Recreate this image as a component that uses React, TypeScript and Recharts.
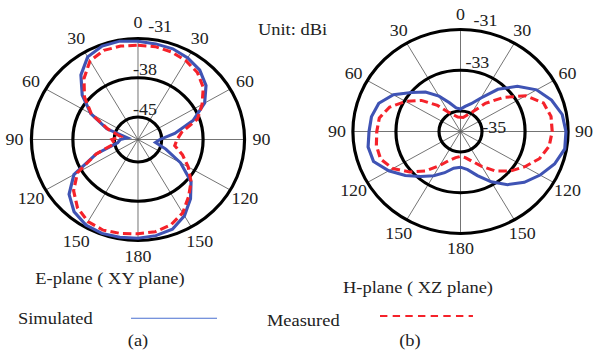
import {
  PolarAngleAxis,
  PolarGrid,
  PolarRadiusAxis,
  Radar,
  RadarChart,
} from "recharts";

// angle in degrees, clockwise from the top
const angles = [
  0, 10, 20, 30, 40, 50, 60, 70, 80, 90, 100, 110, 120, 130, 140, 150, 160, 170,
  180, 190, 200, 210, 220, 230, 240, 250, 260, 270, 280, 290, 300, 310, 320, 330,
  340, 350,
];

// E-plane (XY plane), dBi
const eSimulated = [
  -31.5, -31.7, -31.8, -32.2, -32.8, -34.0, -36.0, -39.1, -42.7, -45.3, -46.0,
  -44.0, -40.7, -37.3, -35.2, -33.3, -32.0, -31.6, -31.4, -31.3, -31.2, -31.4,
  -32.2, -33.8, -36.5, -41.5, -45.5, -46.0, -47.2, -43.4, -39.8, -36.7, -34.0,
  -32.0, -31.3, -31.2,
];
const eMeasured = [
  -32.2, -32.2, -32.4, -32.8, -33.4, -34.6, -36.5, -38.3, -41.5, -42.4, -42.7,
  -41.0, -39.2, -37.3, -35.7, -33.9, -32.8, -32.3, -32.2, -32.0, -31.8, -32.1,
  -33.1, -34.8, -37.2, -41.5, -45.0, -44.6, -46.0, -43.6, -39.9, -37.2, -34.8,
  -32.8, -32.1, -32.1,
];

// H-plane (XZ plane), dBi
const hSimulated = [
  -34.9, -34.75, -34.55, -34.1, -33.3, -32.55, -31.92, -31.5, -31.2, -31.1,
  -31.08, -31.35, -31.73, -32.13, -32.6, -33.15, -33.7, -34.1, -34.25, -34.17,
  -33.85, -33.5, -33.12, -32.65, -32.15, -31.7, -31.64, -31.75, -31.8, -31.96,
  -32.4, -33.03, -33.47, -34.0, -34.5, -34.83,
];
const hMeasured = [
  -35.3, -35.3, -35.15, -34.9, -34.2, -33.4, -32.5, -31.9, -31.73, -31.74,
  -31.82, -32.1, -32.55, -32.98, -33.47, -34.03, -34.45, -34.7, -34.78, -34.7,
  -34.5, -34.08, -33.48, -32.92, -32.37, -32.05, -32.03, -32.11, -32.17, -32.5,
  -33.05, -33.63, -34.33, -34.92, -35.15, -35.28,
];

const eDomain = [-49, -31];
const eRings = [-45, -38, -31];
const hDomain = [-36, -31];
const hRings = [-35, -33, -31];
const spokeAngles = [0, 30, 60, 90, 120, 150, 180, 210, 240, 270, 300, 330];

const SX = 1.055; // the figure is slightly wider than tall
const FONT = '"Liberation Serif", "Times New Roman", serif';
const BLUE = "#3f53b4";
const RED = "#f5222a";

const eData = angles.map((a, i) => ({ angle: a, sim: eSimulated[i], meas: eMeasured[i] }));
const hData = angles.map((a, i) => ({ angle: a, sim: hSimulated[i], meas: hMeasured[i] }));

const labelStyle = { fontFamily: FONT, fontSize: 17, fill: "#222" };

const AngleTick = (props: any) => {
  const { x, y, payload } = props;
  const v = Number(payload.value);
  if (v % 30 !== 0) return null;
  return (
    <text x={x} y={y} textAnchor="middle" dominantBaseline="central" style={labelStyle}>
      {v <= 180 ? v : 360 - v}
    </text>
  );
};

const radiusTick =
  (offsets: Record<string, [number, number]>) => (props: any) => {
    const { x, y, payload } = props;
    const [dx, dy] = offsets[String(payload.value)] ?? [0, 0];
    return (
      <text
        x={x + dx}
        y={y + dy}
        textAnchor="middle"
        dominantBaseline="central"
        style={labelStyle}
      >
        {payload.value}
      </text>
    );
  };

interface PlotProps {
  data: { angle: number; sim: number; meas: number }[];
  domain: number[];
  rings: number[];
  cx: number;
  cy: number;
  r: number;
  labelGap: number;
  offsets: Record<string, [number, number]>;
}

const PolarPlot = ({ data, domain, rings, cx, cy, r, labelGap, offsets }: PlotProps) => (
  <RadarChart width={280} height={272} data={data} cx={cx} cy={cy} outerRadius={r}>
    <PolarGrid
      gridType="circle"
      polarAngles={spokeAngles}
      polarRadius={[]}
      stroke="#555"
      strokeWidth={0.8}
    />
    <PolarGrid gridType="circle" radialLines={false} stroke="#000" strokeWidth={3} />
    <PolarAngleAxis
      dataKey="angle"
      axisLine={false}
      tickLine={false}
      tickSize={labelGap}
      tick={AngleTick}
    />
    <PolarRadiusAxis
      type="number"
      angle={90}
      domain={domain}
      ticks={rings}
      axisLine={false}
      tickLine={false}
      tick={radiusTick(offsets)}
    />
    <Radar
      dataKey="sim"
      stroke={BLUE}
      strokeWidth={3}
      fill="none"
      fillOpacity={0}
      dot={false}
      isAnimationActive={false}
    />
    <Radar
      dataKey="meas"
      stroke={RED}
      strokeWidth={3}
      strokeDasharray="8 4"
      fill="none"
      fillOpacity={0}
      dot={false}
      isAnimationActive={false}
    />
  </RadarChart>
);

export default function App() {
  const textStyle = { fontFamily: FONT, fontSize: 17.5, fill: "#222" };
  return (
    <div
      style={{
        position: "absolute",
        left: 0,
        top: 0,
        width: 593,
        height: 358,
        background: "#fff",
        overflow: "hidden",
      }}
    >
      <div
        style={{
          position: "absolute",
          left: 0,
          top: 0,
          width: 562,
          height: 358,
          transform: `scaleX(${SX})`,
          transformOrigin: "0 0",
        }}
      >
        <div style={{ position: "absolute", left: 0, top: 0 }}>
          <PolarPlot
            data={eData}
            domain={eDomain}
            rings={eRings}
            cx={130.8}
            cy={139.5}
            r={101}
            labelGap={16}
            offsets={{ "-31": [21, -12.5], "-38": [6.6, -9], "-45": [6.6, -8] }}
          />
        </div>
        <div style={{ position: "absolute", left: 300, top: 0 }}>
          <PolarPlot
            data={hData}
            domain={hDomain}
            rings={hRings}
            cx={136.5}
            cy={131.5}
            r={102}
            labelGap={15}
            offsets={{ "-31": [23.7, -9.5], "-33": [16, -8.5], "-35": [32, 16] }}
          />
        </div>
        <svg
          width={562}
          height={358}
          style={{ position: "absolute", left: 0, top: 0, pointerEvents: "none" }}
        >
          <text x={244.5} y={35} style={textStyle}>
            Unit: dBi
          </text>
          <text x={104.3} y={284} textAnchor="middle" style={textStyle}>
            E-plane ( XY plane)
          </text>
          <text x={396.2} y={293} textAnchor="middle" style={textStyle}>
            H-plane ( XZ plane)
          </text>
          <text x={17} y={324} style={textStyle}>
            Simulated
          </text>
          <line x1={124.2} y1={318.3} x2={205.7} y2={318.3} stroke="#4a6fd0" strokeWidth={1} />
          <text x={253} y={326.5} style={textStyle}>
            Measured
          </text>
          <line
            x1={360.2}
            y1={316}
            x2={448.3}
            y2={316}
            stroke={RED}
            strokeWidth={2}
            strokeDasharray="7 5"
          />
          <text x={130.8} y={346} textAnchor="middle" style={textStyle}>
            (a)
          </text>
          <text x={388.6} y={346} textAnchor="middle" style={textStyle}>
            (b)
          </text>
        </svg>
      </div>
    </div>
  );
}
